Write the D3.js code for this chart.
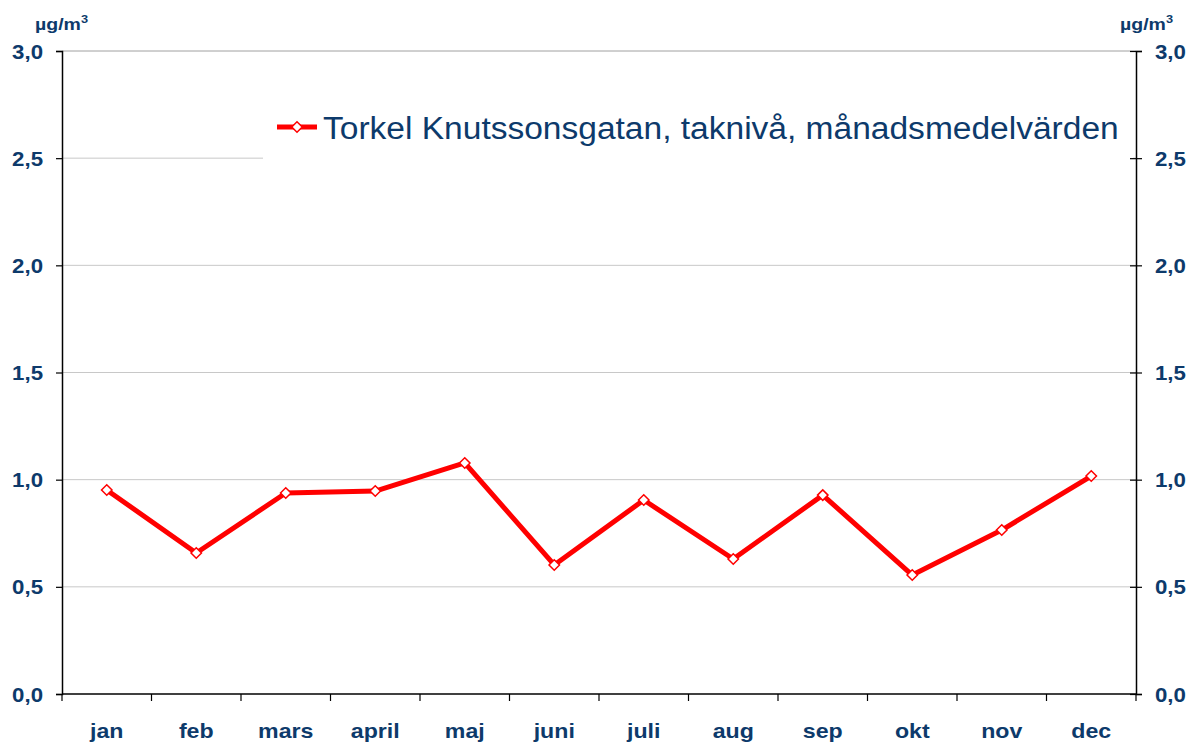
<!DOCTYPE html>
<html><head><meta charset="utf-8">
<script src="https://cdn.jsdelivr.net/npm/d3@7"></script>
<style>body{margin:0;background:#fff}text{font-family:"Liberation Sans",Arial,sans-serif}</style>
</head><body><svg id="c" width="1195" height="742"></svg>
<script>
const categories = ["jan","feb","mars","april","maj","juni","juli","aug","sep","okt","nov","dec"];
const values = [0.952,0.658,0.938,0.947,1.078,0.602,0.905,0.630,0.928,0.555,0.765,1.017];
const yTicks = [0,0.5,1.0,1.5,2.0,2.5,3.0];
const seriesName = "Torkel Knutssonsgatan, taknivå, månadsmedelvärden";
const unit = "µg/m";

const svg = d3.select("#c");
const L=62, R=1136, T=51, B=694;
const blue="#0d3a6b";
const x = d3.scaleBand().domain(categories).range([L,R]).padding(0);
const y = d3.scaleLinear().domain([0,3]).range([B,T]);
const fmt = d => d.toFixed(1).replace(".",",");

// gridlines
svg.append("g").selectAll("line").data(yTicks.filter(d=>d>0)).join("line")
  .attr("x1",L).attr("x2",R).attr("y1",d=>y(d)).attr("y2",d=>y(d))
  .attr("stroke",d=>d===3?"#a0a0a0":"#c8c8c8").attr("stroke-width",1);

// legend box (covers grid)
svg.append("rect").attr("x",263).attr("y",95).attr("width",870).attr("height",68).attr("fill","#fff");

// placed, horizontally stretched text
function sText(g, px, py, str, size, sx, anchor, weight){
  return g.append("text").attr("transform",`translate(${px},${py}) scale(${sx},1)`)
    .attr("text-anchor",anchor).attr("fill",blue).attr("font-size",size)
    .attr("font-weight",weight).text(str);
}

// axes
const gl = svg.append("g").attr("transform",`translate(${L},0)`)
  .call(d3.axisLeft(y).tickValues(yTicks).tickFormat("").tickSize(6));
const gr = svg.append("g").attr("transform",`translate(${R},0)`)
  .call(d3.axisRight(y).tickValues(yTicks).tickFormat("").tickSize(6));
[gl,gr].forEach(g=>{
  g.select(".domain").attr("stroke","#000").attr("stroke-width",1.5);
  g.selectAll(".tick line").attr("stroke","#000").attr("stroke-width",1.2);
});
gr.selectAll(".tick line").attr("x1",-6);
const tl = svg.append("g");
yTicks.forEach(v=>{
  sText(tl, 43, y(v)+7.5, fmt(v), 21, 1.06, "end", "bold");
  sText(tl, 1155, y(v)+7.5, fmt(v), 21, 1.06, "start", "bold");
});

// x axis
svg.append("line").attr("x1",L).attr("x2",R).attr("y1",B).attr("y2",B).attr("stroke","#000").attr("stroke-width",1.5);
const xt = categories.map(c=>x(c)).concat([R]);
svg.append("g").selectAll("line").data(xt).join("line")
  .attr("x1",d=>d).attr("x2",d=>d).attr("y1",B).attr("y2",B+7).attr("stroke","#000").attr("stroke-width",1.2);
const cl = svg.append("g");
categories.forEach(c=>sText(cl, x(c)+x.bandwidth()/2, 738, c, 20.5, 1.13, "middle", "bold"));

// units
function unitLabel(xx){
  const t = svg.append("text").attr("transform",`translate(${xx},30) scale(1.22,1)`)
    .attr("fill",blue).attr("font-size",16).attr("font-weight","bold");
  t.append("tspan").text(unit);
  t.append("tspan").attr("dy",-7).attr("font-size",10.5).text("3");
}
unitLabel(35);
unitLabel(1120);

// line
const cx = d => x(d)+x.bandwidth()/2;
const data = categories.map((c,i)=>({c,v:values[i]}));
svg.append("path").datum(data)
  .attr("d",d3.line().x(d=>cx(d.c)).y(d=>y(d.v)))
  .attr("fill","none").attr("stroke","#ff0000").attr("stroke-width",5).attr("stroke-linejoin","round");
const diamond = d3.symbol().type(d3.symbolDiamond2).size(70);
svg.append("g").selectAll("path").data(data).join("path")
  .attr("transform",d=>`translate(${cx(d.c)},${y(d.v)})`)
  .attr("d",diamond()).attr("fill","#fff").attr("stroke","#ff0000").attr("stroke-width",1.5);

// legend
svg.append("line").attr("x1",277).attr("x2",317).attr("y1",127).attr("y2",127)
  .attr("stroke","#ff0000").attr("stroke-width",5);
svg.append("path").attr("transform","translate(297,127)").attr("d",diamond())
  .attr("fill","#fff").attr("stroke","#ff0000").attr("stroke-width",1.5);
sText(svg, 323, 139, seriesName, 31.5, 1.065, "start", "normal");
</script></body></html>
